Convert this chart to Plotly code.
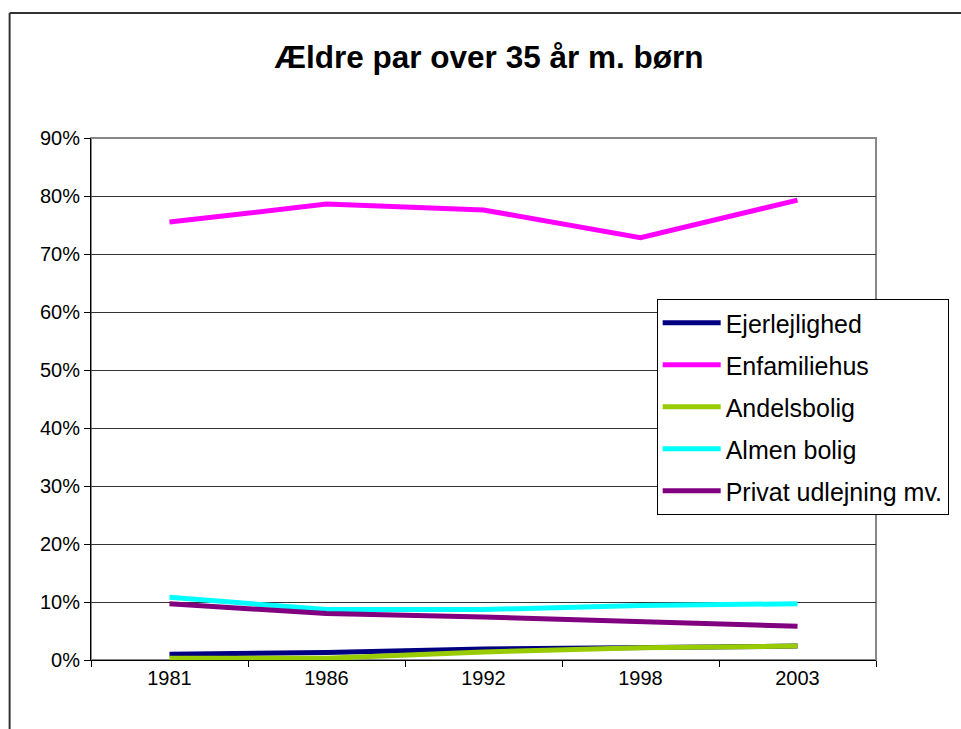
import plotly.graph_objects as go

years = ["1981", "1986", "1992", "1998", "2003"]
ejerlejlighed = [0.010, 0.013, 0.019, 0.022, 0.024]
enfamiliehus = [0.755, 0.786, 0.776, 0.728, 0.793]
andelsbolig = [0.003, 0.003, 0.014, 0.021, 0.024]
almen_bolig = [0.108, 0.087, 0.087, 0.094, 0.097]
privat_udlejning = [0.097, 0.080, 0.074, 0.067, 0.058]

series = [
    ("Ejerlejlighed", ejerlejlighed, "#000080"),
    ("Enfamiliehus", enfamiliehus, "#FF00FF"),
    ("Andelsbolig", andelsbolig, "#99CC00"),
    ("Almen bolig", almen_bolig, "#00FFFF"),
    ("Privat udlejning mv.", privat_udlejning, "#800080"),
]

FONT = "Liberation Sans, Arial, sans-serif"

fig = go.Figure()
for name, vals, col in series:
    fig.add_trace(go.Scatter(
        x=years, y=vals, name=name, mode="lines",
        line=dict(color=col, width=5),
        legendgroup=name,
    ))

# body margin is removed by post_script, so figure coords = screen coords
W, H = 961, 729
L, T = 91, 138
R = W - 882
B = H - 660
pw, ph = W - L - R, H - T - B

def px_x(sx):
    return (sx - L) / pw

def px_y(sy):
    return (H - B - sy) / ph

fig.update_layout(
    width=W, height=H,
    margin=dict(l=L, r=R, t=T, b=B),
    paper_bgcolor="white", plot_bgcolor="white",
    font=dict(family=FONT, color="black", size=20),
    title=dict(
        text="<b>Ældre par over 35 år m. børn</b>",
        font=dict(family=FONT, size=31.5, color="black"),
        x=489 / W, xref="container", xanchor="center",
        y=1 - 57 / H, yref="container", yanchor="middle",
    ),
    showlegend=True,
    legend=dict(
        x=px_x(661), y=px_y(299),
        xanchor="left", yanchor="top",
        bgcolor="white", bordercolor="#000000", borderwidth=1,
        font=dict(family=FONT, size=25, color="black"),
        tracegroupgap=6.5,
        itemwidth=58,
    ),
    xaxis=dict(
        type="category", range=[-0.5, 4.5],
        showgrid=False, showline=True, linecolor="black", linewidth=1,
        ticks="outside", tickson="boundaries", ticklen=6, tickcolor="black",
        tickfont=dict(family=FONT, size=20, color="black"),
        zeroline=False,
    ),
    yaxis=dict(
        range=[0, 0.9], tickvals=[i / 10 for i in range(10)],
        tickformat=".0%",
        showgrid=True, gridcolor="#333333", gridwidth=1,
        showline=True, linecolor="black", linewidth=1,
        ticks="outside", ticklen=6, tickcolor="black",
        tickfont=dict(family=FONT, size=20, color="black"),
        zeroline=False,
    ),
    shapes=[
        dict(type="rect", xref="paper", yref="paper", x0=0, y0=0, x1=1, y1=1,
             line=dict(color="#888888", width=2), layer="below"),
        # outer chart border: top and left edges only (rest is off-page)
        dict(type="line", xref="paper", yref="paper",
             x0=px_x(9), y0=px_y(13), x1=px_x(975), y1=px_y(13),
             line=dict(color="#333333", width=2), layer="below"),
        dict(type="line", xref="paper", yref="paper",
             x0=px_x(9), y0=px_y(13), x1=px_x(9), y1=px_y(745),
             line=dict(color="#333333", width=2), layer="below"),
    ],
)

fig.write_html(
    "out.html",
    config={"displayModeBar": False},
    post_script="document.body.style.margin='0';document.body.style.overflow='hidden';",
)
